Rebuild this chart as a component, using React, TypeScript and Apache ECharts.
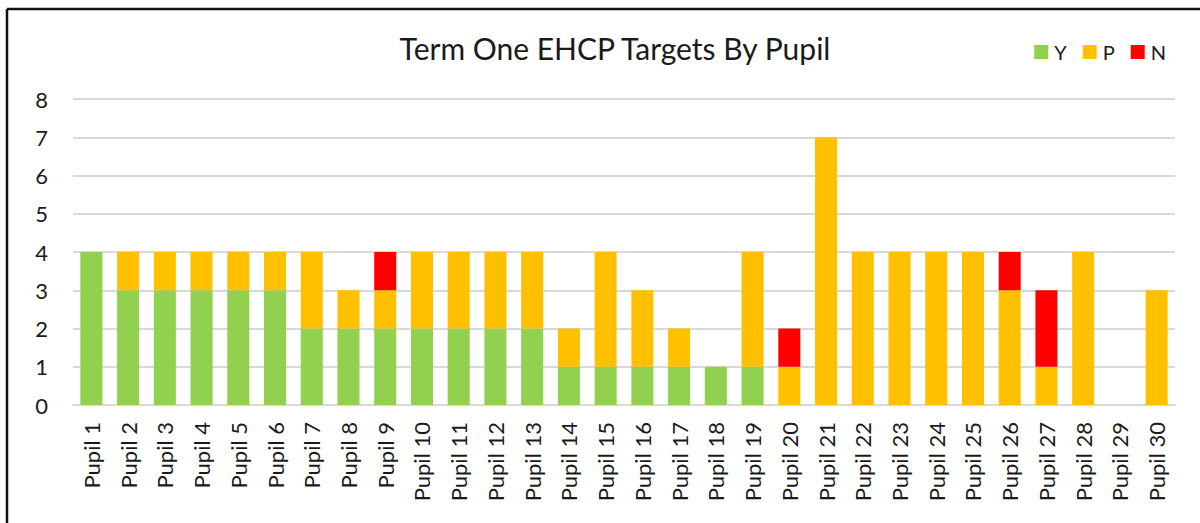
import React, { useEffect, useRef } from "react";
import * as echarts from "echarts";

const categories = Array.from({ length: 30 }, (_, i) => `Pupil ${i + 1}`);
const yValues = [4, 3, 3, 3, 3, 3, 2, 2, 2, 2, 2, 2, 2, 1, 1, 1, 1, 1, 1, 0, 0, 0, 0, 0, 0, 0, 0, 0, 0, 0];
const pValues = [0, 1, 1, 1, 1, 1, 2, 1, 1, 2, 2, 2, 2, 1, 3, 2, 1, 0, 3, 1, 7, 4, 4, 4, 4, 3, 1, 4, 0, 3];
const nValues = [0, 0, 0, 0, 0, 0, 0, 0, 1, 0, 0, 0, 0, 0, 0, 0, 0, 0, 0, 1, 0, 0, 0, 0, 0, 1, 2, 0, 0, 0];
const seriesNames = ["Y", "P", "N"];
const colors = ["#92D050", "#FFC000", "#FF0000"];

export default function App() {
  const ref = useRef<HTMLDivElement>(null);
  useEffect(() => {
    if (!ref.current) return;
    const chart = echarts.init(ref.current, null, { renderer: "svg" });
    const font = "Lato, 'Open Sans', sans-serif";
    const data = [yValues, pValues, nValues];
    chart.setOption({
      animation: false,
      title: {
        text: "Term One EHCP Targets By Pupil",
        left: 610,
        textAlign: "center",
        top: 28,
        textStyle: { fontFamily: font, fontSize: 30, fontWeight: "normal", color: "#1a1a1a" },
      },
      legend: {
        data: seriesNames,
        right: 29,
        top: 37,
        icon: "rect",
        itemWidth: 14,
        itemHeight: 14,
        itemGap: 16,
        textStyle: { fontFamily: font, fontSize: 20, color: "#1a1a1a", padding: [0, 0, 0, 1] },
      },
      graphic: [
        {
          type: "line",
          shape: { x1: 7, y1: 9, x2: 1200, y2: 9 },
          style: { stroke: "#111", lineWidth: 2.5 },
        },
        {
          type: "line",
          shape: { x1: 7, y1: 9, x2: 7, y2: 523 },
          style: { stroke: "#111", lineWidth: 2.5 },
        },
      ],
      grid: { left: 73, right: 25, top: 99, bottom: 118, containLabel: false },
      xAxis: {
        type: "category",
        data: categories,
        axisLine: { lineStyle: { color: "#d9d9d9", width: 2 } },
        axisTick: { show: false },
        axisLabel: {
          rotate: 90,
          interval: 0,
          margin: 17,
          fontFamily: font,
          fontSize: 22,
          color: "#1a1a1a",
        },
      },
      yAxis: {
        type: "value",
        min: 0,
        max: 8,
        interval: 1,
        axisLine: { show: false },
        axisTick: { show: false },
        splitLine: { lineStyle: { color: "#d9d9d9", width: 2 } },
        axisLabel: { margin: 25, fontFamily: font, fontSize: 22, color: "#1a1a1a" },
      },
      series: seriesNames.map((name, i) => ({
        name,
        type: "bar",
        stack: "total",
        barCategoryGap: "40%",
        data: data[i],
        itemStyle: { color: colors[i] },
      })),
    });
    return () => chart.dispose();
  }, []);
  return (
    <div
      ref={ref}
      style={{ position: "fixed", left: 0, top: 0, width: 1200, height: 523, background: "#fff" }}
    />
  );
}
